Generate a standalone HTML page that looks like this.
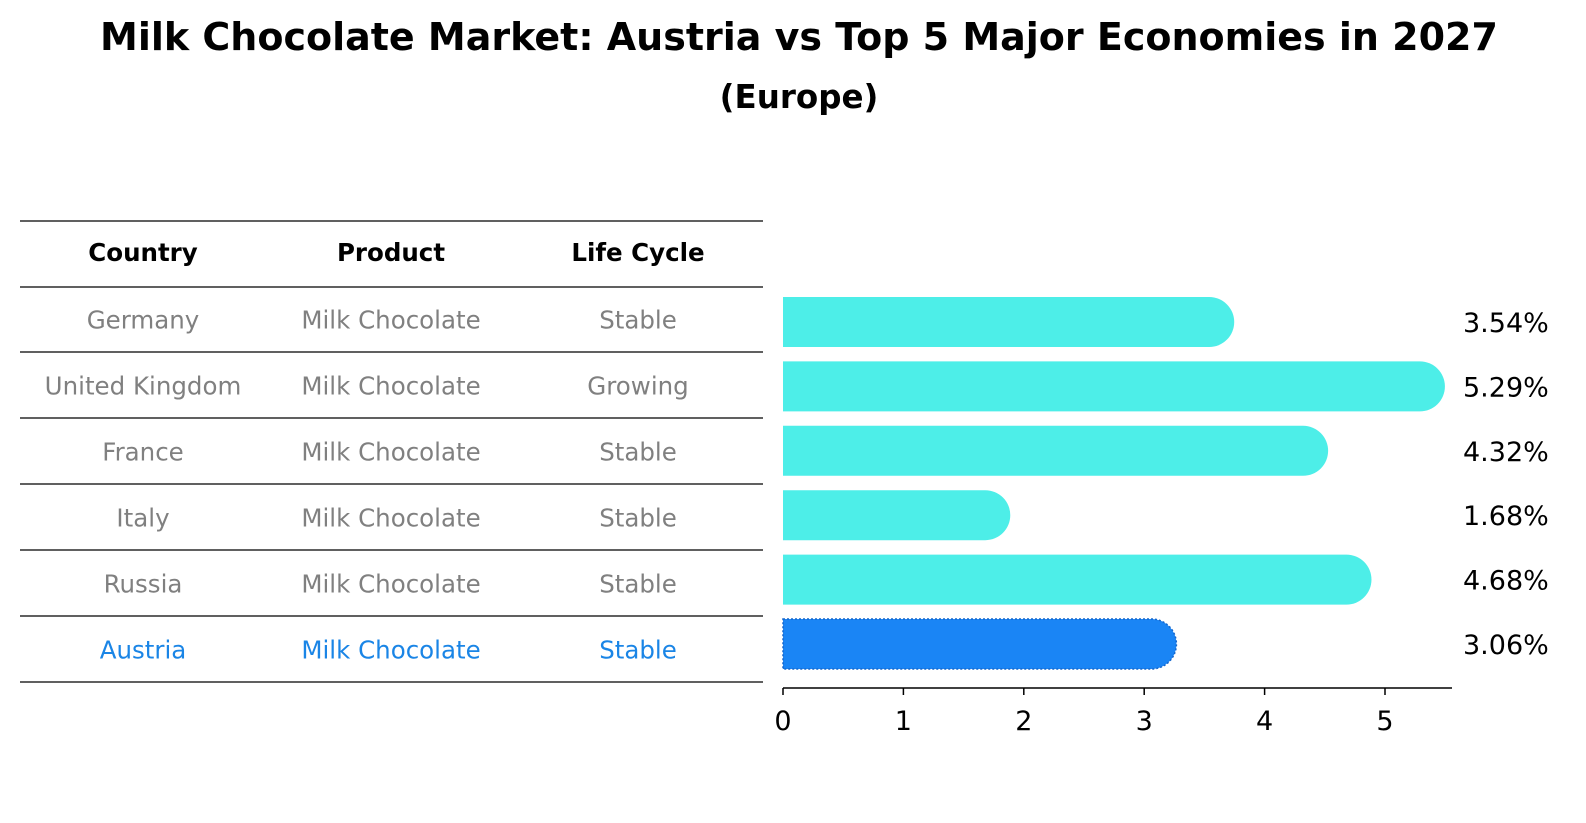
<!DOCTYPE html>
<html><head><meta charset="utf-8"><style>
html,body{margin:0;padding:0;background:#fff;overflow:hidden;width:1586px;height:823px;font-family:"Liberation Sans","DejaVu Sans",sans-serif;}
svg{display:block;}
svg text{font-family:"DejaVu Sans","Liberation Sans",sans-serif;}
</style></head><body>
<svg id="c" width="1586" height="823" xmlns="http://www.w3.org/2000/svg">
<text x="799" y="50" text-anchor="middle" font-size="38" font-weight="bold">Milk Chocolate Market: Austria vs Top 5 Major Economies in 2027</text>
<text x="799" y="108" text-anchor="middle" font-size="32.5" font-weight="bold">(Europe)</text>
<g id="table"></g>
<g id="bars"></g>
</svg>
<script>
const countries=["Germany","United Kingdom","France","Italy","Russia","Austria"];
const products=["Milk Chocolate","Milk Chocolate","Milk Chocolate","Milk Chocolate","Milk Chocolate","Milk Chocolate"];
const lifecycle=["Stable","Growing","Stable","Stable","Stable","Stable"];
const values=[3.54,5.29,4.32,1.68,4.68,3.06];
const ticks=[0,1,2,3,4,5];
const NS="http://www.w3.org/2000/svg";
function mk(t,a,p,txt){const e=document.createElementNS(NS,t);for(const k in a)e.setAttribute(k,a[k]);if(txt!==undefined)e.textContent=txt;p.appendChild(e);return e;}
const x=v=>783+v*120.4;
const rowY=i=>322+i*64.4;
const tb=document.getElementById('table');
const colX=[143,391,638];
const lines=[221,287,352,418,484,550,616,682];
lines.forEach((ly,i)=>{const l=mk('line',{x1:20,x2:763,y1:ly,y2:ly,stroke:'#000','stroke-width':1.2},tb);

});
["Country","Product","Life Cycle"].forEach((h,j)=>{const t=mk('text',{x:colX[j],y:261,'text-anchor':'middle','font-size':24.5,'font-weight':'bold'},tb,h);

});
countries.forEach((c,i)=>{const col=i===countries.length-1?'#1a85e6':'#808080';
[c,products[i],lifecycle[i]].forEach((v,j)=>{const t=mk('text',{x:colX[j],y:(lines[1]+lines[2])/2+9+i*66,'text-anchor':'middle','font-size':24.5,fill:col},tb,v);

});});
const bg=document.getElementById('bars');
const h=50,r=25;
values.forEach((v,i)=>{const y0=rowY(i)-h/2;const xe=x(v);const last=i===values.length-1;
const p=mk('path',{d:`M${x(0)},${y0} H${xe} A${r},${r} 0 0 1 ${xe},${y0+h} H${x(0)} Z`,fill:last?'#1a85f5':'#4deee8',stroke:last?'#1566cc':'none','stroke-dasharray':last?'2,2':'none','stroke-width':1.5},bg);


const t=mk('text',{x:1463,y:rowY(i)+10,'font-size':27},bg,v.toFixed(2)+'%');

});
const ax=mk('line',{x1:x(0),x2:1452,y1:688,y2:688,stroke:'#000','stroke-width':1.5},bg);


ticks.forEach(tv=>{const tl=mk('line',{x1:x(tv),x2:x(tv),y1:688,y2:695,stroke:'#000','stroke-width':1.5},bg);


const t=mk('text',{x:x(tv),y:730,'text-anchor':'middle','font-size':27},bg,String(tv));

});
</script>
</body></html>
